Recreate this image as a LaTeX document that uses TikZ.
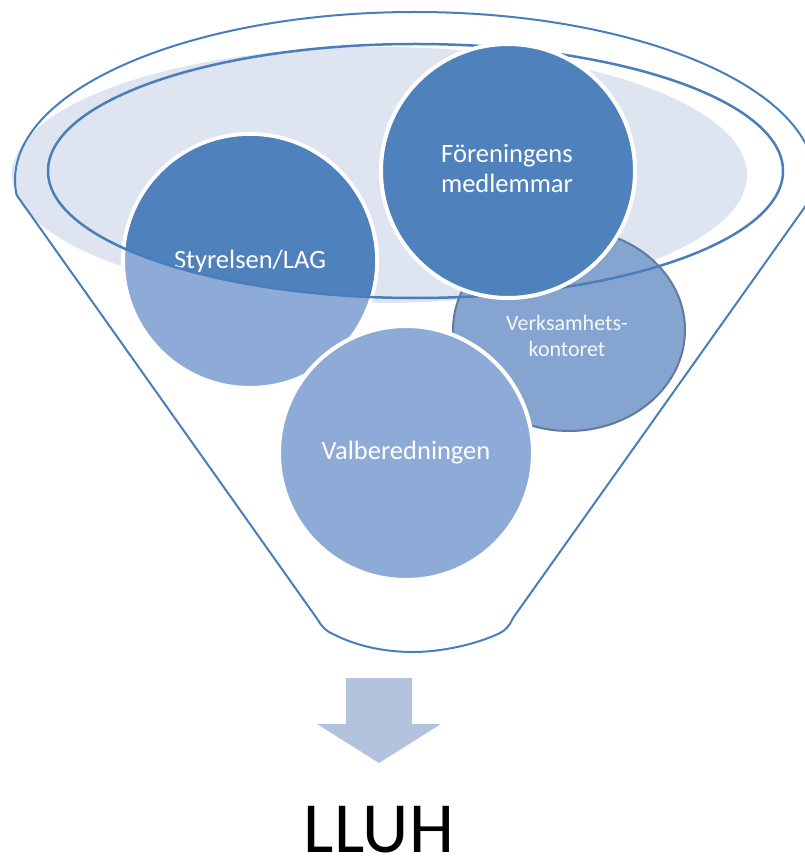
\documentclass[tikz,border=0pt]{standalone}
\usepackage{fontspec}
\setmainfont{Carlito}
\usetikzlibrary{shapes.geometric}
\definecolor{darkblue}{RGB}{79,129,189}
\definecolor{lightfill}{RGB}{141,171,214}
\definecolor{verkfill}{RGB}{134,164,208}
\definecolor{openfill}{RGB}{222,228,240}
\definecolor{rim}{RGB}{74,126,187}
\definecolor{arrowblue}{RGB}{179,195,222}
\definecolor{vborder}{RGB}{98,122,160}
\begin{document}
\begin{tikzpicture}[x=1pt,y=-1pt,
  disc/.style={circle, inner sep=0pt, minimum size=#1, draw=white, line width=4pt},
  ctext/.style={text=white, font=\fontsize{26.5}{30}\selectfont, align=center, inner sep=0pt},
  funnelline/.style={draw=rim, line width=2pt},
]
\useasboundingbox (0,0) rectangle (804,858);

% back shading of the opening
\fill[openfill] (379.5,175) ellipse [x radius=367.5, y radius=128];

% Styrelsen/LAG
\node[disc=254pt, fill=lightfill] (sty) at (250,261) {};
\begin{scope}
  \clip (415.5,171) ellipse [x radius=367.5, y radius=127];
  \fill[darkblue] (sty.center) circle [radius=125];
\end{scope}
\node[ctext] (styt) at (250,261) {Styrelsen/LAG};

% Verksamhetskontoret
\node[ellipse, inner sep=0pt, minimum width=232pt, minimum height=202pt,
      fill=verkfill, draw=vborder, line width=2pt] (verk) at (569,330) {};
\node[ctext, font=\fontsize{22}{26}\selectfont, text=white!92!verkfill] (verkt) at (567,336) {Verksamhets-\\kontoret};

% Valberedningen
\node[disc=254pt, fill=lightfill] (valb) at (406,453) {};
\node[ctext] (valbt) at (406,453) {Valberedningen};

% inner rim of the funnel
\draw[rim, line width=2.5pt] (415.5,171) ellipse [x radius=367.5, y radius=127];

% Föreningens medlemmar
\node[disc=254pt, fill=darkblue] (fm) at (508,171) {};
\node[ctext] (fmt) at (507,168) {Föreningens\\medlemmar};

% outer rim and funnel body
\begin{scope}
  \clip (-20,-20) rectangle (840,195);
  \draw[funnelline] (415,180) ellipse [x radius=400, y radius=168];
\end{scope}
\draw[funnelline, line join=round] (16.6,195) -- (318,620)
  .. controls (322,627) and (326,631) .. (333,634)
  .. controls (360,648) and (390,652) .. (413,652)
  .. controls (440,652) and (475,645) .. (500,633)
  .. controls (506,630) and (510,625) .. (513,618)
  -- (813.4,195);

% arrow
\fill[arrowblue] (346,678) -- (412,678) -- (412,724) -- (441,724) -- (379,763)
  -- (317,724) -- (346,724) -- cycle;

% result
\node[font=\fontsize{72}{80}\selectfont, anchor=base, inner sep=0pt] (lluh) at (379,852) {LLUH};
\end{tikzpicture}
\end{document}
